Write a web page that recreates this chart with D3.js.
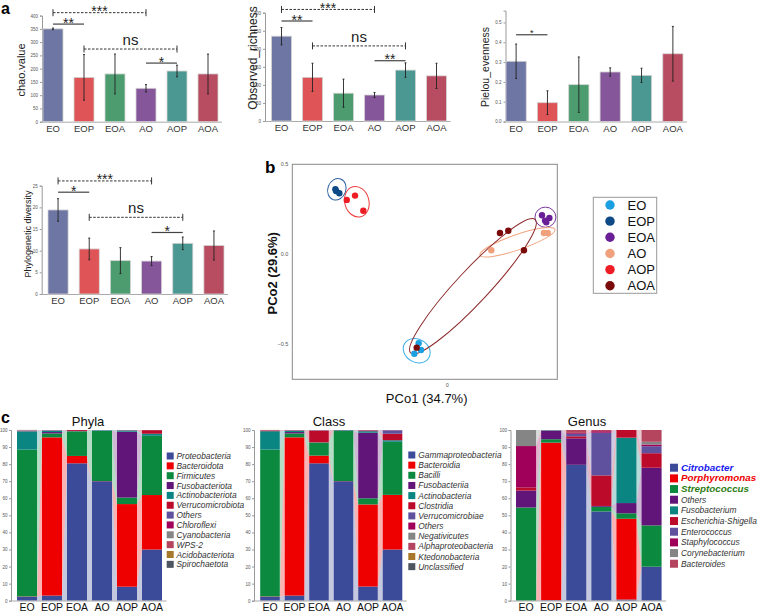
<!DOCTYPE html>
<html><head><meta charset="utf-8">
<script src="https://cdn.jsdelivr.net/npm/d3@7"></script>
<style>body{margin:0;background:#fff;} svg{display:block;font-family:"Liberation Sans",Arial,sans-serif;}</style>
</head><body><svg id="c" width="760" height="615"></svg>
<script>
// ---------- DATA ----------
const groups = ["EO","EOP","EOA","AO","AOP","AOA"];
const barColors = ["#6e76a3","#df5557","#4c9c6f","#85579a","#4b9892","#b84c60"];

const chaoMean = [350,167,180,126,191,180];
const chaoErr  = [3,86,75,14,22,75];
const chaoTicks = [0,50,100,150,200,250,300,350,400];
const chaoSig = [
  {a:"EO", b:"AO", y:411, label:"***", dashed:true},
  {a:"EO", b:"EOP", y:368, label:"**", dashed:false},
  {a:"EOP", b:"AOP", y:274, label:"ns", dashed:true},
  {a:"AO", b:"AOP", y:221, label:"*", dashed:false}];

const richMean = [235,121,77,72,141,125];
const richErr  = [24,39,39,7,20,35];
const richTicks = [0,50,100,150,200,250,300];
const richSig = [
  {a:"EO", b:"AO", y:309, label:"***", dashed:true},
  {a:"EO", b:"EOP", y:277, label:"**", dashed:false},
  {a:"EOP", b:"AOP", y:208, label:"ns", dashed:true},
  {a:"AO", b:"AOP", y:167, label:"**", dashed:false}];

const pielouMean = [0.304,0.095,0.186,0.25,0.233,0.342];
const pielouErr  = [0.087,0.06,0.14,0.021,0.036,0.138];
const pielouTicks = [0,0.1,0.2,0.3,0.4,0.5];
const pielouSig = [{a:"EO", b:"EOP", y:0.438, label:"*", dashed:false}];

const pdMean = [19.4,10.4,7.7,7.6,11.7,11.2];
const pdErr  = [2.6,2.5,3.0,1.05,1.45,3.35];
const pdTicks = [0,5,10,15,20,25];
const pdSig = [
  {a:"EO", b:"AO", y:26.1, label:"***", dashed:true},
  {a:"EO", b:"EOP", y:23.5, label:"*", dashed:false},
  {a:"EOP", b:"AOP", y:17.7, label:"ns", dashed:true},
  {a:"AO", b:"AOP", y:14.2, label:"*", dashed:false}];

// PCoA
const pcoaGroup = ["EO","EO","EO","EOP","EOP","EOP","EOA","EOA","EOA","EOA","AO","AO","AO","AOP","AOP","AOP","AOA","AOA","AOA","AOA"];
const pcoaX = [-0.159,-0.146,-0.183,-0.621,-0.617,-0.599,0.525,0.566,0.542,0.549,0.244,0.536,0.557,-0.558,-0.512,-0.466,0.292,0.338,0.425,-0.170];
const pcoaY = [-0.495,-0.532,-0.553,0.361,0.352,0.339,0.217,0.202,0.187,0.178,0.022,0.118,0.118,0.302,0.326,0.242,0.118,0.131,0.022,-0.519];
const pcoaColors = ["#1a9fe0","#0d4a86","#6a1f96","#f0a07c","#ee1c25","#7b0a0a"];
const ellipseColors = ["#3ab0ea","#2f62a3","#7a3a9a","#f2a580","#ee3a3a","#8c2a2a"];
// ellipse: center x, center y, semi-axis a, semi-axis b, rotation (deg)
const ellCx = [-0.170,-0.613,0.544,0.389,-0.502,0.142];
const ellCy = [-0.536,0.361,0.206,0.067,0.292,-0.178];
const ellA  = [0.078,0.050,0.058,0.220,0.067,0.506];
const ellB  = [0.064,0.061,0.056,0.042,0.086,0.090];
const ellRot= [30,20,0,-19,-15,-47];
const pcoaYTicks = [0.5,0,-0.5];
const pcoaXTicks = [0];

// Composition
const phylaNames = ["Proteobacteria","Bacteroidota","Firmicutes","Fusobacteriota","Actinobacteriota","Verrucomicrobiota","Others","Chloroflexi","Cyanobacteria","WPS-2","Acidobacteriota","Spirochaetota"];
const phylaValues = [
  [2.3,3.0,80.5,70.0,8.2,30.0],
  [0.2,92.7,4.3,0.1,48.4,31.9],
  [86.0,2.3,14.4,29.4,3.8,34.6],
  [0,0.8,0.05,0.05,38.6,0.1],
  [10.7,0.7,0.1,0.3,0.7,1.2],
  [0.1,0.1,0.6,0,0.1,2.1],
  [0.3,0.2,0.05,0.1,0.1,0.05],
  [0.1,0.05,0,0,0.05,0],
  [0.2,0.05,0,0.05,0,0],
  [0.1,0.05,0,0,0,0],
  [0.05,0,0,0,0,0],
  [0,0.05,0,0,0.05,0]];
const classNames = ["Gammaproteobacteria","Bacteroidia","Bacilli","Fusobacteriia","Actinobacteria","Clostridia","Verrucomicrobiae","Others","Negativicutes","Alphaproteobacteria","Ktedonobacteria","Unclassified"];
const classValues = [
  [2.3,3.0,80.5,70.0,8.3,30.0],
  [0.2,92.7,4.5,0.1,48.1,32.0],
  [86.0,2.3,7.6,29.3,3.6,31.0],
  [0,0.8,0.05,0.05,38.4,0.1],
  [10.8,0.7,0.1,0.4,0.9,0.9],
  [0.4,0.2,6.9,0.05,0.4,3.8],
  [0.05,0.05,0.2,0,0.1,2.0],
  [0.05,0.1,0.05,0.05,0.1,0.1],
  [0.1,0.05,0.05,0.05,0.05,0.05],
  [0.1,0.05,0.05,0,0.05,0.05],
  [0.05,0,0,0,0,0],
  [0,0.05,0,0,0,0]];
const genusNames = ["Citrobacter","Porphyromonas","Streptococcus","Others","Fusobacterium","Escherichia-Shigella","Enterococcus","Staphylococcus","Corynebacterium","Bacteroides"];
const genusValues = [
  [0,0.3,79.5,52.3,0.7,19.9],
  [0,92.3,0,0,47.3,0],
  [54.6,2.0,0.1,2.7,3.2,24.2],
  [9.9,4.9,15.5,0.5,6.0,33.8],
  [0,0.3,0,0,38.3,0],
  [1.9,0.1,1.2,17.9,4.5,8.5],
  [0,0.05,1.5,25.0,0,4.1],
  [24.2,0,0.5,0.9,0,1.0],
  [9.4,0,0,0,0,1.6],
  [0,0,1.7,0.7,0,6.9]];
const taxaColors = ["#3c4b99","#ef0000","#0b8a3f","#611578","#0a8582","#bb0a2a","#5f519e","#a1005a","#858585","#b5445e","#a8782a","#4d5560"];
const genusHighlight = {"Citrobacter":"#1a1aee","Porphyromonas":"#ee0000","Streptococcus":"#2e7d14"};
const pctTicks = [0,10,20,30,40,50,60,70,80,90,100];

// ---------- DRAW ----------
const svg = d3.select("#c");

function barChart(o) {
  const g = svg.append("g");
  const x = d3.scaleBand().domain(groups).range(o.xr).paddingInner(0.355).paddingOuter(0);
  const y = d3.scaleLinear().domain(o.domain).range([o.y0, o.y1]);
  const ax = g.append("g").attr("transform", `translate(${o.ax},0)`)
    .call(d3.axisLeft(y).tickValues(o.ticks).tickSize(2).tickPadding(2).tickFormat(o.fmt));
  ax.select(".domain").attr("stroke","#999");
  ax.selectAll(".tick line").attr("stroke","#999");
  ax.selectAll("text").attr("font-size",4.5).attr("fill","#555");
  g.append("line").attr("x1",o.ax).attr("x2",o.xr[1]+4).attr("y1",o.y0+0.5).attr("y2",o.y0+0.5).attr("stroke","#aaa");
  const bw = x.bandwidth();
  g.selectAll("rect.bar").data(groups).join("rect").attr("class","bar")
    .attr("x", d=>x(d)).attr("width", bw)
    .attr("y", (d,i)=>y(o.mean[i])).attr("height",(d,i)=>o.y0 - y(o.mean[i]))
    .attr("fill",(d,i)=>barColors[i]).attr("stroke","#d4d4d4").attr("stroke-width",0.8);
  groups.forEach((d,i)=>{
    const cx = x(d)+bw/2, t = y(o.mean[i]+o.err[i]), b = y(Math.max(0,o.mean[i]-o.err[i]));
    g.append("line").attr("x1",cx).attr("x2",cx).attr("y1",t).attr("y2",b).attr("stroke","#222").attr("stroke-width",0.9);
    [t,b].forEach(yy=>g.append("line").attr("x1",cx-1).attr("x2",cx+1).attr("y1",yy).attr("y2",yy).attr("stroke","#222").attr("stroke-width",0.9));
  });
  g.selectAll("text.xl").data(groups).join("text").attr("class","xl")
    .attr("x",d=>x(d)+bw/2).attr("y",o.y0+10).attr("text-anchor","middle")
    .attr("font-size",9.5).attr("fill","#333").text(d=>d);
  g.append("text").attr("transform",`translate(${o.lx},${o.ly}) rotate(-90)`)
    .attr("text-anchor","middle").attr("font-size",o.lsize).attr("fill","#222").text(o.label);
  o.sig.forEach(s=>{
    const xa = x(s.a)+bw/2, xb = x(s.b)+bw/2, yy = y(s.y);
    g.append("line").attr("x1",xa).attr("x2",xb).attr("y1",yy).attr("y2",yy)
      .attr("stroke", s.dashed ? "#333" : "#444").attr("stroke-width", s.dashed?1:1.2)
      .attr("stroke-dasharray", s.dashed ? "2.5,1.5" : null);
    if (s.dashed) {
      [xa,xb].forEach(xx=>g.append("line").attr("x1",xx).attr("x2",xx).attr("y1",yy-3.5).attr("y2",yy+3.5).attr("stroke","#333").attr("stroke-width",1));
    }
    const isNs = s.label==="ns";
    const fs = isNs ? 15 : (o.sigSize||14);
    g.append("text").attr("x",(xa+xb)/2).attr("y", isNs ? yy-4 : yy+(o.sigSize?1.5:3.5))
      .attr("text-anchor","middle").attr("font-size",fs).attr("fill","#222").text(s.label);
  });
}

barChart({xr:[43,218], ax:42, y0:121.7, y1:15.6, domain:[0,400], ticks:chaoTicks, fmt:d3.format("d"),
  mean:chaoMean, err:chaoErr, sig:chaoSig, label:"chao.value", lx:25, ly:70, lsize:11});
barChart({xr:[271.5,446.5], ax:265, y0:121, y1:12.7, domain:[0,300], ticks:richTicks, fmt:d3.format("d"),
  mean:richMean, err:richErr, sig:richSig, label:"Observed_richness", lx:256.5, ly:58, lsize:12});
barChart({xr:[506,683], ax:505.5, y0:121.5, y1:10.6, domain:[0,0.56], ticks:pielouTicks, fmt:d3.format(".1f"),
  mean:pielouMean, err:pielouErr, sig:pielouSig, sigSize:9, label:"Pielou_evenness", lx:489, ly:67, lsize:10.5});
barChart({xr:[48,224], ax:41.7, y0:294, y1:185.7, domain:[0,25], ticks:pdTicks, fmt:d3.format("d"),
  mean:pdMean, err:pdErr, sig:pdSig, label:"Phylogenetic diversity", lx:31, ly:234, lsize:9});

// panel labels
svg.append("text").attr("x",1).attr("y",14).attr("font-size",16).attr("font-weight","bold").text("a");
svg.append("text").attr("x",265).attr("y",172.5).attr("font-size",17).attr("font-weight","bold").text("b");
svg.append("text").attr("x",1).attr("y",423).attr("font-size",16).attr("font-weight","bold").text("c");

// ---------- PCoA ----------
(function(){
  const g = svg.append("g");
  const L=292.3, R=557.3, T=164.3, B=379.3;
  const x = d3.scaleLinear().domain([-0.86,0.61]).range([L,R]);
  const y = d3.scaleLinear().domain([-0.695,0.5]).range([B,T]);
  g.append("rect").attr("x",L).attr("y",T).attr("width",R-L).attr("height",B-T).attr("fill","none").attr("stroke","#888").attr("stroke-width",1);
  g.selectAll("text.yt").data(pcoaYTicks).join("text").attr("class","yt")
    .attr("x",L-4).attr("y",d=>y(d)+2).attr("text-anchor","end").attr("font-size",5.5).attr("fill","#555")
    .text(d=>d3.format(".1f")(d));
  g.selectAll("text.xt").data(pcoaXTicks).join("text").attr("class","xt")
    .attr("x",d=>x(d)).attr("y",B+8).attr("text-anchor","middle").attr("font-size",5.5).attr("fill","#555").text(d=>d);
  const kx = x(1)-x(0), ky = y(0)-y(1);
  groups.forEach((gr,i)=>{
    g.append("ellipse").attr("transform",`translate(${x(ellCx[i])},${y(ellCy[i])}) rotate(${ellRot[i]})`)
      .attr("rx",ellA[i]*kx).attr("ry",ellB[i]*Math.abs(ky)).attr("fill","none")
      .attr("stroke",ellipseColors[i]).attr("stroke-width",1);
  });
  g.selectAll("circle.pt").data(pcoaX).join("circle").attr("class","pt")
    .attr("cx",d=>x(d)).attr("cy",(d,i)=>y(pcoaY[i])).attr("r",3.2)
    .attr("fill",(d,i)=>pcoaColors[groups.indexOf(pcoaGroup[i])]);
  g.append("text").attr("x",426.7).attr("y",402.5).attr("text-anchor","middle").attr("font-size",13).attr("fill","#111").text("PCo1 (34.7%)");
  g.append("text").attr("transform","translate(277,273.3) rotate(-90)").attr("text-anchor","middle").attr("font-size",13).attr("font-weight","600").attr("fill","#111").text("PCo2 (29.6%)");
  // legend
  const lg = svg.append("g");
  lg.append("rect").attr("x",593.3).attr("y",197.3).attr("width",63.4).attr("height",96).attr("fill","#fff").attr("stroke","#999");
  groups.forEach((gr,i)=>{
    const cy = 205 + i*16.15;
    lg.append("circle").attr("cx",610).attr("cy",cy).attr("r",4.7).attr("fill",pcoaColors[i]);
    lg.append("text").attr("x",627.5).attr("y",cy+4.6).attr("font-size",13).attr("fill","#111").text(gr);
  });
})();

// ---------- Composition ----------
function stackChart(o) {
  const g = svg.append("g");
  const x = d3.scaleBand().domain(groups).range(o.xr).paddingInner(0.2).paddingOuter(0.1);
  const y = d3.scaleLinear().domain([0,100]).range([600.7,430]);
  const bw = x.bandwidth();
  const rows = groups.map((gr,j)=>{ const r={group:gr}; o.names.forEach((n,k)=>r[n]=o.values[k][j]); return r; });
  const series = d3.stack().keys(o.names).order(d3.stackOrderNone).offset(d3.stackOffsetNone)(rows);
  series.forEach((s,k)=>{
    for (let i=0;i<groups.length-1;i++){
      const a=s[i], b=s[i+1];
      if (a[1]-a[0]<=0 && b[1]-b[0]<=0) continue;
      const x1 = x(groups[i])+bw, x2 = x(groups[i+1]);
      g.append("path").attr("d",`M${x1},${y(a[0])}L${x1},${y(a[1])}L${x2},${y(b[1])}L${x2},${y(b[0])}Z`)
        .attr("fill",taxaColors[k]).attr("fill-opacity",0.3);
    }
  });
  series.forEach((s,k)=>{
    g.selectAll(null).data(s).join("rect")
      .attr("x",d=>x(d.data.group)).attr("width",bw)
      .attr("y",d=>y(d[1])).attr("height",d=>Math.max(0,y(d[0])-y(d[1])))
      .attr("fill",taxaColors[k]);
  });
  const ax = g.append("g").attr("transform",`translate(${o.ax},0)`)
    .call(d3.axisLeft(y).tickValues(pctTicks).tickSize(2).tickPadding(1.5));
  ax.select(".domain").attr("stroke","#999");
  ax.selectAll(".tick line").attr("stroke","#999");
  ax.selectAll("text").attr("font-size",4.5).attr("fill","#555");
  g.append("line").attr("x1",o.ax).attr("x2",o.xr[1]+2).attr("y1",601).attr("y2",601).attr("stroke","#aaa");
  g.selectAll("text.xl").data(groups).join("text").attr("class","xl")
    .attr("x",d=>x(d)+bw/2).attr("y",611).attr("text-anchor","middle").attr("font-size",10.5).attr("fill","#111").text(d=>d);
  g.append("text").attr("x",o.tx).attr("y",426).attr("text-anchor","middle").attr("font-size",13).attr("fill","#111").text(o.title);
  o.names.forEach((n,k)=>{
    const cy = o.ly0 + k*o.lstep;
    g.append("rect").attr("x",o.lsx).attr("y",cy-o.sq/2).attr("width",o.sq).attr("height",o.sq).attr("fill",taxaColors[k]);
    const hl = o.highlight && o.highlight[n];
    g.append("text").attr("x",o.ltx).attr("y",cy+3).attr("font-size",hl?9.8:8.4)
      .attr("font-style","italic").attr("font-weight",hl?"bold":"normal")
      .attr("fill",hl||"#333").text(n);
  });
}
stackChart({names:phylaNames, values:phylaValues, xr:[14.5,164.5], ax:11, tx:88, title:"Phyla",
  lsx:166.7, ltx:176.5, ly0:456, lstep:9.85, sq:7});
stackChart({names:classNames, values:classValues, xr:[257.75,404.75], ax:254, tx:329, title:"Class",
  lsx:408.3, ltx:418.3, ly0:455, lstep:10.15, sq:7});
stackChart({names:genusNames, values:genusValues, xr:[513.5,664.1], ax:510.5, tx:587, title:"Genus",
  lsx:670, ltx:681, ly0:467.7, lstep:10.67, sq:8, highlight:genusHighlight});
</script></body></html>
